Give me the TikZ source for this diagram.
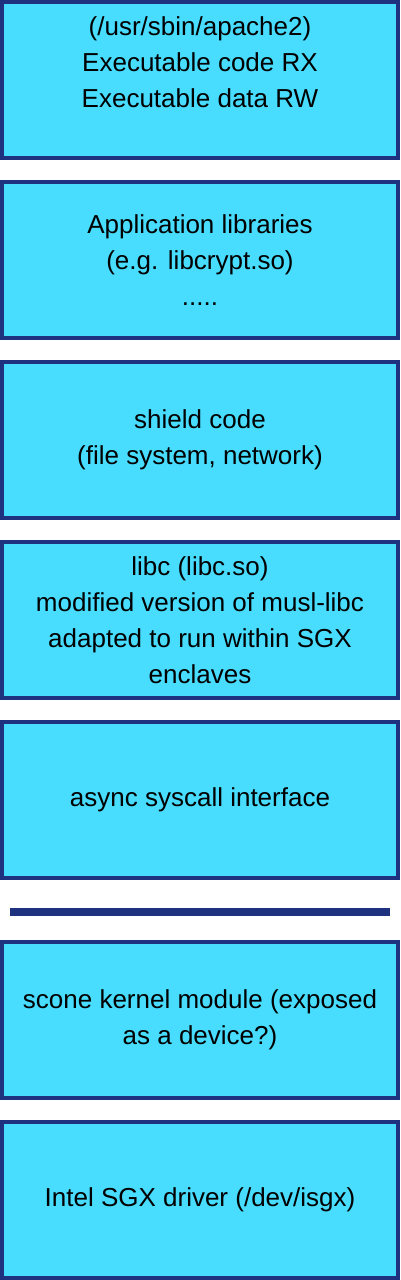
\documentclass[tikz,border=0pt]{standalone}
\usepackage{fontspec}
\setmainfont{Liberation Sans}
\usepackage{xcolor}
\usetikzlibrary{positioning}

\definecolor{layerfill}{RGB}{72,220,254}
\definecolor{layerline}{RGB}{31,50,128}

\begin{document}
\begin{tikzpicture}[x=1pt, y=1pt,
		layer/.style={draw=layerline, fill=layerfill, line width=4pt,
			minimum width=396pt, minimum height=156pt, inner sep=0pt,
			align=center, font=\fontsize{26}{36}\selectfont}]
			
			% fixed page size
			\useasboundingbox (0,0) rectangle (400,-1280);
			
			% Enclave side
			\node[layer] (app) at (200,-80) {(/usr/sbin/apache2)\\Executable code RX\\Executable data RW\\\mbox{}};
			\node[layer, below=20pt of app] (libs) {Application libraries\\(e.g. libcrypt.so)\\.....};
			\node[layer, below=20pt of libs] (shield) {shield code\\(file system, network)};
			\node[layer, below=20pt of shield] (libc) {libc (libc.so)\\modified version of musl-libc\\adapted to run within SGX\\enclaves};
			\node[layer, below=20pt of libc] (iface) {async syscall interface};
			
			% Separator between enclave and host
			\coordinate (sepL) at ([xshift=10pt, yshift=-32pt]iface.south west);
			\coordinate (sepR) at ([xshift=-10pt, yshift=-32pt]iface.south east);
			\draw[layerline, line width=8pt] (sepL) -- (sepR);
			
			% Host side
			\node[layer, below=60pt of iface] (kmod) {scone kernel module (exposed\\as a device?)};
			\node[layer, below=20pt of kmod] (driver) {Intel SGX driver (/dev/isgx)};
			
		\end{tikzpicture}
\end{document}
